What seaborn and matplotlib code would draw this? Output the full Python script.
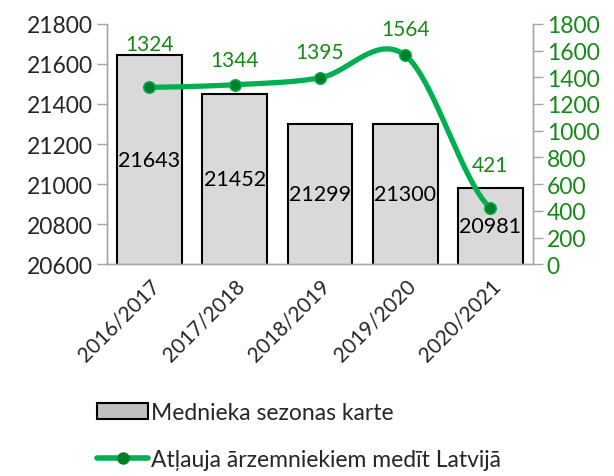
import numpy as np
import pandas as pd
import matplotlib
matplotlib.use("Agg")
import matplotlib.pyplot as plt
import seaborn as sns
from matplotlib.patches import Patch
from matplotlib.lines import Line2D

# data
seasons = ["2016/2017", "2017/2018", "2018/2019", "2019/2020", "2020/2021"]
season_cards = [21643, 21452, 21299, 21300, 20981]
foreign_permits = [1324, 1344, 1395, 1564, 421]

left_ticks = [20600, 20800, 21000, 21200, 21400, 21600, 21800]
right_ticks = [0, 200, 400, 600, 800, 1000, 1200, 1400, 1600, 1800]

bar_label = "Mednieka sezonas karte"
line_label = "Atļauja ārzemniekiem medīt Latvijā"

# vertical offsets (points) of the green value labels
label_offsets = [31, 18, 19, 19, 31]

GREEN_LINE = "#00b050"
GREEN_DARK = "#007f2a"
GREEN_TEXT = "#168a16"
GRAY_AX = "#a6a6a6"


def catmull_rom(xs, ys, n=40):
    """Excel-style smoothed line (Catmull-Rom through the points)."""
    xs = np.asarray(xs, float)
    ys = np.asarray(ys, float)
    px = np.concatenate([[2 * xs[0] - xs[1]], xs, [2 * xs[-1] - xs[-2]]])
    py = np.concatenate([[ys[0]], ys, [ys[-1]]])
    out_x, out_y = [], []
    for i in range(1, len(px) - 2):
        t = np.linspace(0, 1, n)
        for p, out in ((px, out_x), (py, out_y)):
            p0, p1, p2, p3 = p[i - 1], p[i], p[i + 1], p[i + 2]
            m1 = (p2 - p0) / 2
            m2 = (p3 - p1) / 2
            h = ((2 * t**3 - 3 * t**2 + 1) * p1 + (t**3 - 2 * t**2 + t) * m1
                 + (-2 * t**3 + 3 * t**2) * p2 + (t**3 - t**2) * m2)
            out.extend(h)
    return np.array(out_x), np.array(out_y)


sns.set_style("white")
plt.rcParams["font.family"] = ["Lato", "DejaVu Sans"]

df = pd.DataFrame({"season": seasons, "cards": season_cards, "permits": foreign_permits})

fig = plt.figure(figsize=(6.14, 4.77), dpi=100)
ax = fig.add_axes([0.174, 0.444, 0.694, 0.504])

sns.barplot(data=df, x="season", y="cards", color="#d9d9d9", edgecolor="black",
            linewidth=1.5, width=0.76, saturation=1, ax=ax)
ax.set_ylim(left_ticks[0], left_ticks[-1])
ax.set_yticks(left_ticks)
ax.set_xlim(-0.5, len(seasons) - 0.5)
ax.set_xlabel("")
ax.set_ylabel("")

for i, v in enumerate(season_cards):
    ax.text(i, (v + left_ticks[0]) / 2, str(v), ha="center", va="center", fontsize=15.5, color="black")

# x ticks: labels at centres, tick marks at category borders
ax.set_xticks(range(len(seasons)))
ax.set_xticklabels(seasons, rotation=45, ha="right", rotation_mode="anchor", fontsize=15)
ax.set_xticks(np.arange(-0.5, len(seasons) + 0.5, 1), minor=True)
ax.tick_params(axis="x", which="major", length=0, pad=8)
ax.tick_params(axis="x", which="minor", length=6, color=GRAY_AX, width=1)
ax.tick_params(axis="y", length=7, color=GRAY_AX, width=1, labelsize=16.5, pad=3, left=True)

ax2 = ax.twinx()
sx, sy = catmull_rom(range(len(seasons)), foreign_permits)
ax2.plot(sx, sy, color=GREEN_LINE, lw=3.8, solid_capstyle="round", zorder=3)
sns.scatterplot(x=list(range(len(seasons))), y=foreign_permits, color=GREEN_DARK, s=70,
                edgecolor=GREEN_LINE, linewidth=1, zorder=4, ax=ax2, legend=False)
ax2.set_ylim(right_ticks[0], right_ticks[-1])
ax2.set_yticks(right_ticks)
ax2.set_xlim(-0.5, len(seasons) - 0.5)
ax2.tick_params(axis="y", length=7, color=GRAY_AX, width=1, labelsize=16.5, labelcolor=GREEN_TEXT,
                pad=3, right=True)

for i, v in enumerate(foreign_permits):
    ax2.annotate(str(v), (i, v), xytext=(0, label_offsets[i]), textcoords="offset points",
                 ha="center", va="center", fontsize=15, color=GREEN_TEXT)

for a in (ax, ax2):
    a.spines["top"].set_visible(False)
    for s in ("left", "right", "bottom"):
        a.spines[s].set_color(GRAY_AX)
        a.spines[s].set_linewidth(1)

handles = [
    Patch(facecolor="#c0c0c0", edgecolor="black", linewidth=1.5),
    Line2D([0], [0], color=GREEN_LINE, lw=4, marker="o", markersize=8,
           markerfacecolor=GREEN_DARK, markeredgecolor=GREEN_DARK),
]
fig.legend(handles, [bar_label, line_label], loc="lower left", bbox_to_anchor=(0.125, -0.03),
           frameon=False, fontsize=16.5, handlelength=2.2, handletextpad=0.12, labelspacing=1.1,
           handleheight=0.7)

fig.savefig("out.png", dpi=100)
